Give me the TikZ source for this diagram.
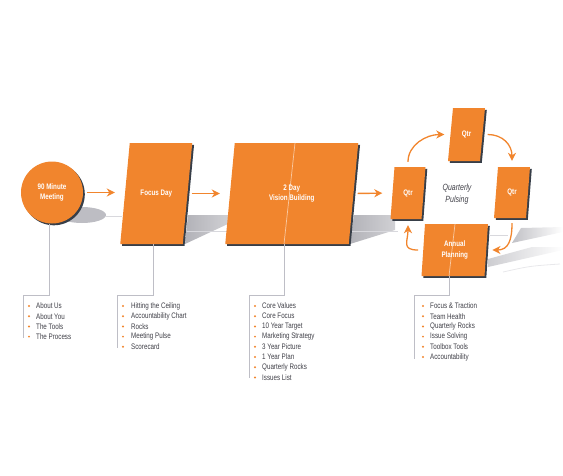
\documentclass[tikz,border=0pt]{standalone}
\usepackage{fontspec}
\setmainfont{Liberation Sans}[FakeStretch=0.78]
\usetikzlibrary{arrows.meta,calc}
\definecolor{eosorange}{RGB}{241,133,45}
\definecolor{eosedge}{RGB}{55,62,72}
\definecolor{guidegrey}{RGB}{190,190,198}
\definecolor{listtext}{RGB}{62,62,70}
\definecolor{shadowgrey}{RGB}{178,178,184}
\tikzset{
 plateface/.style={fill=eosorange},
 plateedge/.style={fill=eosedge},
 platebox/.style={inner sep=0pt,text=white,align=center,font=\bfseries\fontsize{8}{10.5}\selectfont},
 flow/.style={draw=eosorange,line width=1.4pt,-{Stealth[length=8pt,width=8pt,inset=2.5pt]},shorten <=4pt,shorten >=10pt},
 cyc/.style={draw=eosorange,line width=1.3pt,-{Stealth[length=8pt,width=8pt,inset=2.5pt]},shorten <=5pt,shorten >=6pt},
 guide/.style={draw=guidegrey,line width=0.9pt},
 floorline/.style={draw=guidegrey!60,line width=0.8pt},
 midline/.style={draw=white!55!eosorange,line width=0.7pt},
 item/.style={anchor=west,inner sep=0pt,text=listtext,font=\fontsize{8}{9}\selectfont},
 bulletdot/.style={fill=eosorange},
 pulse/.style={align=center,inner sep=0pt,text=listtext,font=\itshape\fontsize{9}{12}\selectfont}
}
% plate: name, cx, cy, width, height, slant, label, extra
\newcommand\plate[8]{%
\fill[plateedge,shift={(1.8,1.8)}] (#2-#4/2+#6/2,#3-#5/2) -- ++(#4,0) -- ++(-#6,#5) -- ++(-#4,0) -- cycle;
\fill[plateface] (#2-#4/2+#6/2,#3-#5/2) -- ++(#4,0) -- ++(-#6,#5) -- ++(-#4,0) -- cycle;
#8
\node[platebox,minimum width=#4,minimum height=#5] (#1) at (#2,#3) {#7};
}
\begin{document}
\begin{tikzpicture}[x=1pt,y=-1pt]
\useasboundingbox (0,0) rectangle (563,475);
%floor shadows
\fill[shadowgrey!85] (82,215) ellipse (24 and 8);
\shade[left color=shadowgrey,right color=shadowgrey!60] (188,215) -- (230,215) -- (230,223) -- (185,244) -- cycle;
\shade[left color=shadowgrey,right color=shadowgrey!60] (354,215) -- (395,215) -- (395,230) -- (350,244) -- cycle;
\shade[left color=shadowgrey!80,right color=white] (521,228) -- (563,227) -- (563,232) -- (512,243) -- cycle;
\shade[left color=shadowgrey!65,right color=white] (488,259) -- (532,247) -- (563,247) -- (563,250) -- (488,267) -- cycle;
\draw[floorline] (106,216) -- (122,216);
\draw[floorline] (187,231) -- (228,231);
\draw[floorline] (352,231) -- (398,231);
\draw[floorline] (490,235) -- (508,235);
\draw[guidegrey!35,line width=0.8pt] (503,272) .. controls (530,266) .. (560,264);
%meeting circle
\fill[plateedge] (53.8,194.3) circle (31);
\node[circle,fill=eosorange,minimum size=62,inner sep=0pt,text=white,align=center,
 font=\bfseries\fontsize{8}{10.5}\selectfont] (meet) at (52,192.5) {90 Minute\\Meeting};
%plates
\plate{focus}{156.25}{193.5}{62.5}{101}{9.5}{Focus Day}{}
\plate{vision}{291.75}{193.5}{123.5}{101}{9.5}{2 Day\\Vision Building}{\draw[midline] (295,143) -- (284,244);}
\plate{leftq}{408}{193}{31}{52}{4}{Qtr}{}
\plate{topq}{466.5}{134.5}{32}{53}{5}{Qtr}{}
\plate{rightq}{512}{192.5}{32}{51}{4}{Qtr}{}
\plate{annual}{454.75}{250}{63}{52}{3.5}{Annual\\Planning}{\draw[midline] (455,224) -- (449,276);}
\node[pulse] (pulsing) at (457,194) {Quarterly\\Pulsing};
%guide lines
\draw[guide] ([xshift=-3]meet.south) -- ++(0,72) -| (23,338);
\draw[guide] ([xshift=-3]focus.south) -- ++(0,51) -| (117,348);
\draw[guide] ([xshift=-7.75]vision.south) -- ++(0,51) -| (249,378);
\draw[guide] ([xshift=-5.75]annual.south) -- ++(0,19) -| (414,359);
%arrows
\draw[flow] (meet.east) -- (meet.east -| focus.west);
\draw[flow] (focus.east) -- (vision.west);
\draw[flow] (vision.east) -- (leftq.west);
\draw[cyc] (leftq.north) .. controls +(0,-22) and +(-24,0) .. (topq.west);
\draw[cyc] (topq.east) .. controls +(20,0) and +(0,-22) .. (rightq.north);
\draw[cyc] (rightq.south) .. controls +(0,22) and +(22,0) .. (annual.east);
\draw[cyc] (annual.west) .. controls +(-22,0) and +(0,22) .. (leftq.south);
%lists
\foreach \t [count=\i] in {About Us,About You,The Tools,The Process}
{
\fill[bulletdot] (29,295.8+\i*10.2) circle (1.1);
\node[item] (meetitem-\i) at (36,295.8+\i*10.2) {\t};
}
\foreach \t [count=\i] in {Hitting the Ceiling,Accountability Chart,Rocks,Meeting Pulse,Scorecard}
{
\fill[bulletdot] (123,295.8+\i*10.2) circle (1.1);
\node[item] (focusitem-\i) at (131,295.8+\i*10.2) {\t};
}
\foreach \t [count=\i] in {Core Values,Core Focus,10 Year Target,Marketing Strategy,3 Year Picture,1 Year Plan,Quarterly Rocks,Issues List}
{
\fill[bulletdot] (255,295.8+\i*10.2) circle (1.1);
\node[item] (visionitem-\i) at (262,295.8+\i*10.2) {\t};
}
\foreach \t [count=\i] in {Focus \& Traction,Team Health,Quarterly Rocks,Issue Solving,Toolbox Tools,Accountability}
{
\fill[bulletdot] (423,295.8+\i*10.2) circle (1.1);
\node[item] (annualitem-\i) at (430,295.8+\i*10.2) {\t};
}
\end{tikzpicture}
\end{document}
